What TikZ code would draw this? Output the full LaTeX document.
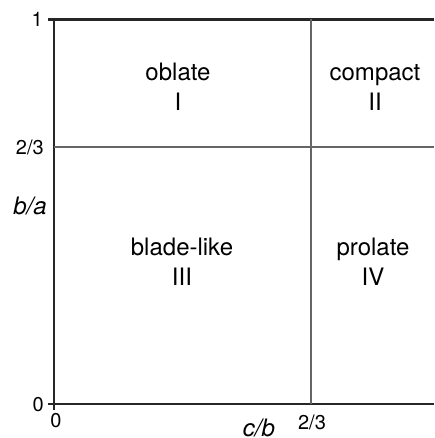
\documentclass[tikz,border=0pt]{standalone}
\usepackage{fontspec}
\setmainfont{TeX Gyre Heros}

\begin{document}
\begin{tikzpicture}[x=1pt,y=-1pt,
  axisline/.style={line width=2.2pt, draw=black!85},
  divline/.style={line width=1.1pt, draw=black!60},
  region/.style={align=center, inner sep=0pt, font=\fontsize{24}{30}\selectfont},
  ticklabel/.style={inner sep=0pt, font=\fontsize{20}{24}\selectfont},
  axislabel/.style={inner sep=0pt, font=\fontsize{24}{28}\selectfont\itshape}]
\useasboundingbox (0,0) rectangle (434,438);

% frame (open on the right)
\draw[axisline] (48,19.5) -- (434,19.5);
\draw[axisline] (48,404) -- (434,404);
\draw[axisline] (54,19.5) -- (54,410);

% dividing lines at 2/3
\draw[divline] (54,147) -- (434,147);
\draw[divline] (311,19.5) -- (311,404);

% ticks
\node[ticklabel, anchor=east] (yone) at (43,19) {1};
\node[ticklabel, anchor=east] (ytwo) at (44,147.5) {2/3};
\node[ticklabel, anchor=east] (yzero) at (44,404.5) {0};
\node[ticklabel] (xzero) at (56,420.5) {0};
\node[ticklabel] (xtwo) at (312,422) {2/3};

% axis names
\node[axislabel] (ylab) at (30,206) {b/a};
\node[axislabel] (xlab) at (259,428) {c/b};

% the four classes
\node[region] (oblate) at (178,87) {oblate\\I};
\node[region] (compact) at (375,87) {compact\\II};
\node[region] (blade) at (182,262) {blade-like\\III};
\node[region] (prolate) at (373,262) {prolate\\IV};
\end{tikzpicture}
\end{document}
